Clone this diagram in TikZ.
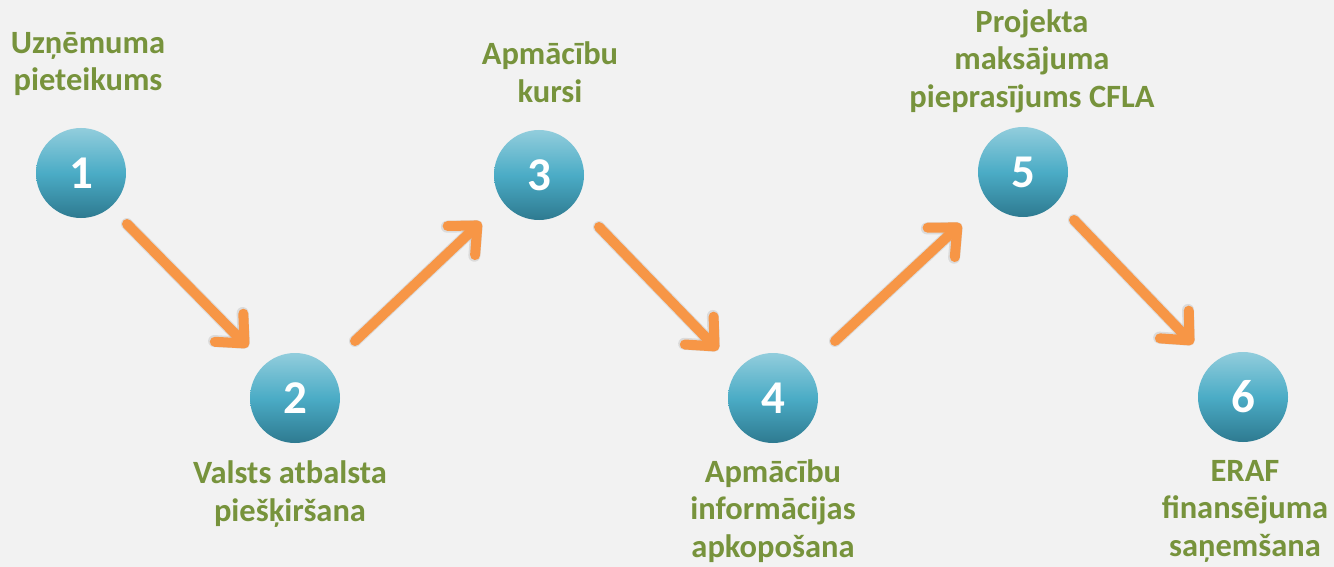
\documentclass[tikz,border=0pt]{standalone}
\usepackage{fontspec}
\setmainfont{Carlito}
\usetikzlibrary{arrows.meta}
\definecolor{bg}{HTML}{F2F2F2}
\definecolor{lbl}{HTML}{77933C}
\definecolor{arr}{HTML}{F79646}
\definecolor{ctop}{HTML}{92CDDC}
\definecolor{cmid}{HTML}{4BACC6}
\definecolor{cbot}{HTML}{2E7A90}
\tikzset{
  stepcircle/.style={circle, minimum size=90pt, inner sep=0pt,
    top color=ctop, bottom color=cbot, middle color=cmid,
    text=white, font=\fontsize{47}{47}\selectfont\bfseries},
  steplabel/.style={text=lbl, align=center, font=\fontsize{32.5}{37.5}\selectfont\bfseries},
  flowarrow/.style={draw=arr, line width=10pt, line cap=round,
    -{Straight Barb[length=22pt, width=40pt, round, line width=10pt]}},
  flowshadow/.style={draw=black!35, opacity=0.3, line width=12pt, line cap=round,
    -{Straight Barb[length=22pt, width=40pt, round, line width=12pt]}},
}
\begin{document}
\begin{tikzpicture}[x=1pt, y=-1pt]
\fill[bg] (0,0) rectangle (1334,567);
\useasboundingbox (0,0) rectangle (1334,567);

\node[stepcircle] (c1) at (81,173) {1};
\node[stepcircle] (c2) at (295,398) {2};
\node[stepcircle] (c3) at (539,175) {3};
\node[stepcircle] (c4) at (773,398) {4};
\node[stepcircle] (c5) at (1023,172) {5};
\node[stepcircle] (c6) at (1243,397) {6};

\node[steplabel] (t1) at (88,64) {Uzņēmuma\\pieteikums};
\node[steplabel] (t2) at (290,494) {Valsts atbalsta\\piešķiršana};
\node[steplabel] (t3) at (550,72) {Apmācību\\kursi};
\node[steplabel] (t4) at (773,511) {Apmācību\\informācijas\\apkopošana};
\node[steplabel] (t5) at (1032,61) {Projekta\\maksājuma\\pieprasījums CFLA};
\node[steplabel] (t6) at (1245,511) {ERAF\\finansējuma\\saņemšana};

\coordinate (a1s) at (127,224); \coordinate (a1e) at (248,347);
\coordinate (a2s) at (355,341); \coordinate (a2e) at (481,222);
\coordinate (a3s) at (599,227); \coordinate (a3e) at (718,350);
\coordinate (a4s) at (835,341); \coordinate (a4e) at (961,224);
\coordinate (a5s) at (1074,220); \coordinate (a5e) at (1193,344);

\begin{scope}[shift={(2,4)}]
\foreach \i in {1,...,5}{\draw[flowshadow] (a\i s) -- (a\i e);}
\end{scope}
\foreach \i in {1,...,5}{\draw[flowarrow] (a\i s) -- (a\i e);}
\end{tikzpicture}
\end{document}
